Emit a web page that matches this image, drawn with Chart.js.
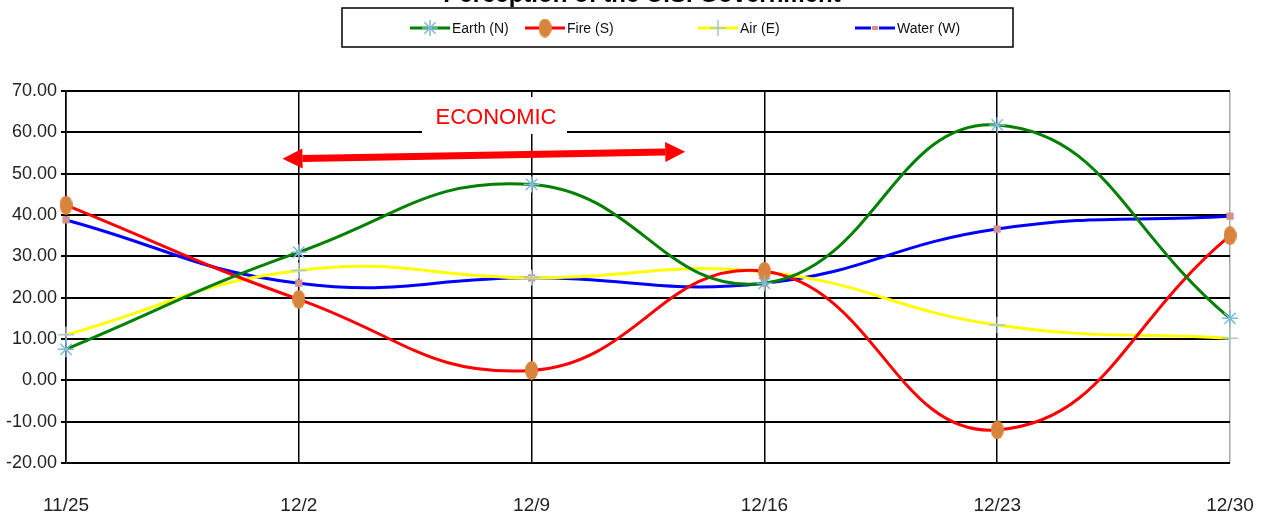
<!DOCTYPE html>
<html>
<head>
<meta charset="utf-8">
<script src="https://cdn.jsdelivr.net/npm/chart.js@4/dist/chart.umd.min.js"></script>
<style>
  html, body { margin: 0; padding: 0; background: #fff; }
  #wrap { width: 1261px; height: 516px; position: relative; }
</style>
</head>
<body>
<div id="wrap"><canvas id="chart" width="1261" height="516"></canvas></div>
<script>
// Chart data
const labels = ['11/25', '12/2', '12/9', '12/16', '12/23', '12/30']
const earth = [7.5, 31.0, 47.4, 23.5, 61.8, 15.0]
const fire = [42.4, 19.6, 2.4, 26.4, -12.0, 35.0]
const air = [11.0, 26.6, 24.8, 26.2, 13.4, 10.2]
const water = [38.8, 23.5, 24.8, 23.5, 36.6, 39.7]
const seriesNames = ['Earth (N)', 'Fire (S)', 'Air (E)', 'Water (W)']

const FONT = "'Liberation Sans', Arial, sans-serif"

// Fire marker is a slightly tall ellipse
function ellipseMarker(w, h, color) {
  const c = document.createElement('canvas')
  c.width = w; c.height = h
  const g = c.getContext('2d')
  g.fillStyle = color
  g.beginPath()
  g.ellipse(w / 2, h / 2, w / 2, h / 2, 0, 0, Math.PI * 2)
  g.fill()
  return c
}
const fireDot = ellipseMarker(13, 19, '#d9843c')

const datasets = [
  { label: seriesNames[0], data: earth, borderColor: '#008000', pointStyle: 'star', pointRadius: 8,
    pointBorderColor: '#7fb9d6', pointBackgroundColor: '#7fb9d6', pointBorderWidth: 1.5 },
  { label: seriesNames[1], data: fire, borderColor: '#ff0000', pointStyle: fireDot, pointRadius: 7,
    pointBorderColor: '#d9843c', pointBackgroundColor: '#d9843c' },
  { label: seriesNames[2], data: air, borderColor: '#ffff00', pointStyle: 'cross', pointRadius: 8,
    pointBorderColor: '#a9c4e0', pointBackgroundColor: '#a9c4e0', pointBorderWidth: 1.5 },
  { label: seriesNames[3], data: water, borderColor: '#0000ff', pointStyle: 'rect', pointRadius: 3,
    pointBorderColor: '#d4928e', pointBackgroundColor: '#d4928e' }
].map(d => Object.assign({ borderWidth: 3, tension: 0.45, fill: false }, d))

// Title (cut at the top), legend box, ECONOMIC note with arrow
const decor = {
  id: 'decor',
  afterDraw(chart) {
    const g = chart.ctx
    const xs = chart.scales.x, ys = chart.scales.y
    g.save()

    g.fillStyle = '#000'
    g.font = 'bold 24px ' + FONT
    g.textAlign = 'center'
    g.textBaseline = 'alphabetic'
    g.fillText('Perception of the U.S. Government', 642, 2)

    // legend
    g.fillStyle = '#fff'
    g.fillRect(342, 8, 671, 39)
    g.strokeStyle = '#000'
    g.lineWidth = 1.5
    g.strokeRect(342, 8, 671, 39)
    const starts = [410, 525, 698, 855]
    g.font = '14px ' + FONT
    g.textAlign = 'left'
    g.textBaseline = 'middle'
    datasets.forEach((d, i) => {
      const x0 = starts[i], y = 28
      g.strokeStyle = d.borderColor
      g.lineWidth = 3
      g.beginPath(); g.moveTo(x0, y); g.lineTo(x0 + 40, y); g.stroke()
      g.fillStyle = d.pointBorderColor
      g.strokeStyle = d.pointBorderColor
      g.lineWidth = 1.5
      if (i === 0) {
        Chart.helpers.drawPoint(g, { pointStyle: 'star', radius: 8, borderWidth: 1.5 }, x0 + 20, y)
      } else if (i === 1) {
        g.drawImage(fireDot, x0 + 20 - 6.5, y - 9.5)
      } else if (i === 2) {
        Chart.helpers.drawPoint(g, { pointStyle: 'cross', radius: 8, borderWidth: 1.5 }, x0 + 20, y)
      } else {
        g.fillStyle = '#fff'
        g.fillRect(x0 + 16, y - 2, 8, 4)
        g.fillStyle = d.pointBorderColor
        g.fillRect(x0 + 17, y - 2, 6, 4)
      }
      g.fillStyle = '#111'
      g.fillText(d.label, x0 + 42, y + 1)
    })

    // ECONOMIC label
    g.fillStyle = '#fff'
    g.fillRect(422, 97, 145, 37)
    g.fillStyle = '#ff0000'
    g.font = '22px ' + FONT
    g.textAlign = 'center'
    g.fillText('ECONOMIC', 496, 118)

    // double arrow
    const x1 = xs.getPixelForValue(0.93), y1 = ys.getPixelForValue(53.6)
    const x2 = xs.getPixelForValue(2.66), y2 = ys.getPixelForValue(55.3)
    const ang = Math.atan2(y2 - y1, x2 - x1)
    const head = 20, half = 10
    g.strokeStyle = '#ff0000'
    g.fillStyle = '#ff0000'
    g.lineWidth = 7
    g.beginPath()
    g.moveTo(x1 + Math.cos(ang) * head, y1 + Math.sin(ang) * head)
    g.lineTo(x2 - Math.cos(ang) * head, y2 - Math.sin(ang) * head)
    g.stroke()
    const tip = (tx, ty, a) => {
      g.beginPath()
      g.moveTo(tx, ty)
      g.lineTo(tx - Math.cos(a) * head - Math.sin(a) * half, ty - Math.sin(a) * head + Math.cos(a) * half)
      g.lineTo(tx - Math.cos(a) * head + Math.sin(a) * half, ty - Math.sin(a) * head - Math.cos(a) * half)
      g.closePath()
      g.fill()
    }
    tip(x2, y2, ang)
    tip(x1, y1, ang + Math.PI)
    g.restore()
  }
}

new Chart(document.getElementById('chart').getContext('2d'), {
  type: 'line',
  data: { labels, datasets },
  plugins: [decor],
  options: {
    responsive: false,
    animation: false,
    layout: { padding: { top: 91, right: 31, left: 0, bottom: 0 } },
    plugins: { legend: { display: false }, tooltip: { enabled: false } },
    scales: {
      x: {
        offset: false,
        grid: {
          color: c => c.index === labels.length - 1 ? '#aaaaaa' : '#000',
          lineWidth: 1.5,
          drawTicks: false
        },
        border: { display: false },
        ticks: { color: '#222', font: { family: FONT, size: 19 }, padding: 31, maxRotation: 0 },
        afterFit: s => { s.height = 53; s.paddingLeft = 0; s.paddingRight = 0 }
      },
      y: {
        min: -20, max: 70,
        ticks: { stepSize: 10, color: '#222', font: { family: FONT, size: 18 }, padding: 4,
          callback: v => v.toFixed(2) },
        grid: { color: '#000', lineWidth: 2, tickLength: 5 },
        border: { color: '#000', width: 1.5 },
        afterFit: s => { s.width = 66 }
      }
    }
  }
})
</script>
</body>
</html>
